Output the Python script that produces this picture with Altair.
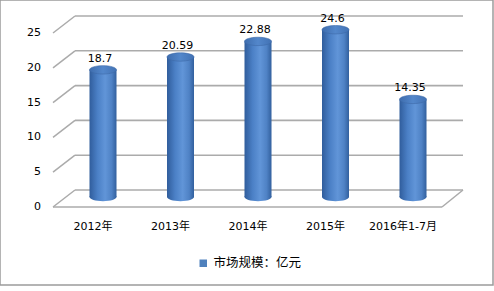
import altair as alt
import pandas as pd

categories = ["2012年", "2013年", "2014年", "2015年", "2016年1-7月"]
values = [18.7, 20.59, 22.88, 24.6, 14.35]
ticks = [0, 5, 10, 15, 20, 25]
series_name = "市场规模：亿元"

df = pd.DataFrame({"cat": categories, "value": values, "series": series_name})
tdf = pd.DataFrame({"t": ticks})
floor_df = pd.DataFrame({"t": [0]})

FONT = "DejaVu Sans, Noto Sans CJK SC"
GRID = "#ababab"

xs = alt.X("cat:N", sort=categories, axis=None,
           scale=alt.Scale(type="point", range=[103, 413], padding=0))
bar_scale = alt.Scale(domain=[0, 25], range=[197, 27])
wall_scale = alt.Scale(domain=[0, 25], range=[190, 16])

body_grad = alt.Gradient(
    gradient="linear", x1=0, x2=1, y1=0, y2=0,
    stops=[alt.GradientStop(color="#305d9c", offset=0),
           alt.GradientStop(color="#4b80c6", offset=0.3),
           alt.GradientStop(color="#6195d8", offset=0.58),
           alt.GradientStop(color="#4f82c5", offset=0.82),
           alt.GradientStop(color="#32609e", offset=1)])
top_grad = alt.Gradient(
    gradient="linear", x1=0, x2=1, y1=0, y2=0,
    stops=[alt.GradientStop(color="#3e6dae", offset=0),
           alt.GradientStop(color="#5387cb", offset=0.5),
           alt.GradientStop(color="#4272b4", offset=1)])

ELLIPSE = ("M -1 0 C -1 -0.17 -0.552 -0.31 0 -0.31 C 0.552 -0.31 1 -0.17 1 0 "
           "C 1 0.17 0.552 0.31 0 0.31 C -0.552 0.31 -1 0.17 -1 0 Z")
SIZE = 27 * 27

back = alt.Chart(tdf).mark_rule(color=GRID, strokeWidth=1.6).encode(
    x=alt.value(75), x2=alt.value(463),
    y=alt.Y("t:Q", scale=wall_scale, axis=None))
diag = alt.Chart(tdf).mark_rule(color=GRID, strokeWidth=1.5, y2Offset=17).encode(
    x=alt.value(75), x2=alt.value(53),
    y=alt.Y("t:Q", scale=wall_scale, axis=None), y2="t:Q")
floor_front = alt.Chart(floor_df).mark_rule(color=GRID, strokeWidth=1.6, yOffset=17).encode(
    x=alt.value(53), x2=alt.value(442),
    y=alt.Y("t:Q", scale=wall_scale, axis=None))
floor_right = alt.Chart(floor_df).mark_rule(color=GRID, strokeWidth=1.5, y2Offset=17).encode(
    x=alt.value(463), x2=alt.value(442),
    y=alt.Y("t:Q", scale=wall_scale, axis=None), y2="t:Q")
tick_text = alt.Chart(tdf).mark_text(align="right", baseline="middle", yOffset=17,
                                     font=FONT, fontSize=11, color="#000").encode(
    x=alt.value(41),
    y=alt.Y("t:Q", scale=wall_scale, axis=None),
    text="t:Q")

bottom = alt.Chart(df).mark_point(shape=ELLIPSE, size=SIZE, filled=True, fill=body_grad,
                                  strokeWidth=0, opacity=1).encode(
    x=xs, y=alt.Y("zero:Q", scale=bar_scale, axis=None)).transform_calculate(zero="0")
body = alt.Chart(df).mark_bar(size=27, fill=body_grad, strokeWidth=0).encode(
    x=xs, y=alt.Y("value:Q", scale=bar_scale, axis=None), y2=alt.datum(0))
top = alt.Chart(df).mark_point(shape=ELLIPSE, size=SIZE, filled=True, fill=top_grad,
                               stroke="#3e6aa8", strokeWidth=0.6, opacity=1).encode(
    x=xs, y=alt.Y("value:Q", scale=bar_scale, axis=None))
labels = alt.Chart(df).mark_text(baseline="alphabetic", yOffset=-8, xOffset=-3,
                                 font=FONT, fontSize=11, color="#000").encode(
    x=xs, y=alt.Y("value:Q", scale=bar_scale, axis=None), text="value:Q")
cat_text = alt.Chart(df).mark_text(baseline="middle", xOffset=-10, font=FONT,
                                   fontSize=11, color="#000").encode(
    x=xs, y=alt.value(227), text="cat:N")

legend_layer = alt.Chart(df).mark_point(filled=True, opacity=0, shape="square").encode(
    x=xs, y=alt.Y("value:Q", scale=bar_scale, axis=None),
    color=alt.Color("series:N", scale=alt.Scale(range=["#4f81bd"]),
                    legend=alt.Legend(orient="none", legendX=197, legendY=257, title=None,
                                      symbolType="square", symbolSize=56, symbolOpacity=1,
                                      symbolStrokeWidth=0, labelFont="Noto Sans CJK SC",
                                      labelFontSize=12.5, labelColor="#000",
                                      labelOffset=4, padding=0)))

chart = alt.layer(back, diag, floor_front, floor_right, tick_text,
                  bottom, body, top, labels, cat_text, legend_layer).resolve_scale(
    y="independent").properties(
    width=493, height=285,
    autosize=alt.AutoSizeParams(type="none"),
    padding={"left": 0, "top": 0, "right": 1, "bottom": 6},
    background="white",
).configure_view(stroke="#9c9c9c", strokeWidth=1.5)

chart.save("out.html", embed_options={"renderer": "svg", "actions": False})
